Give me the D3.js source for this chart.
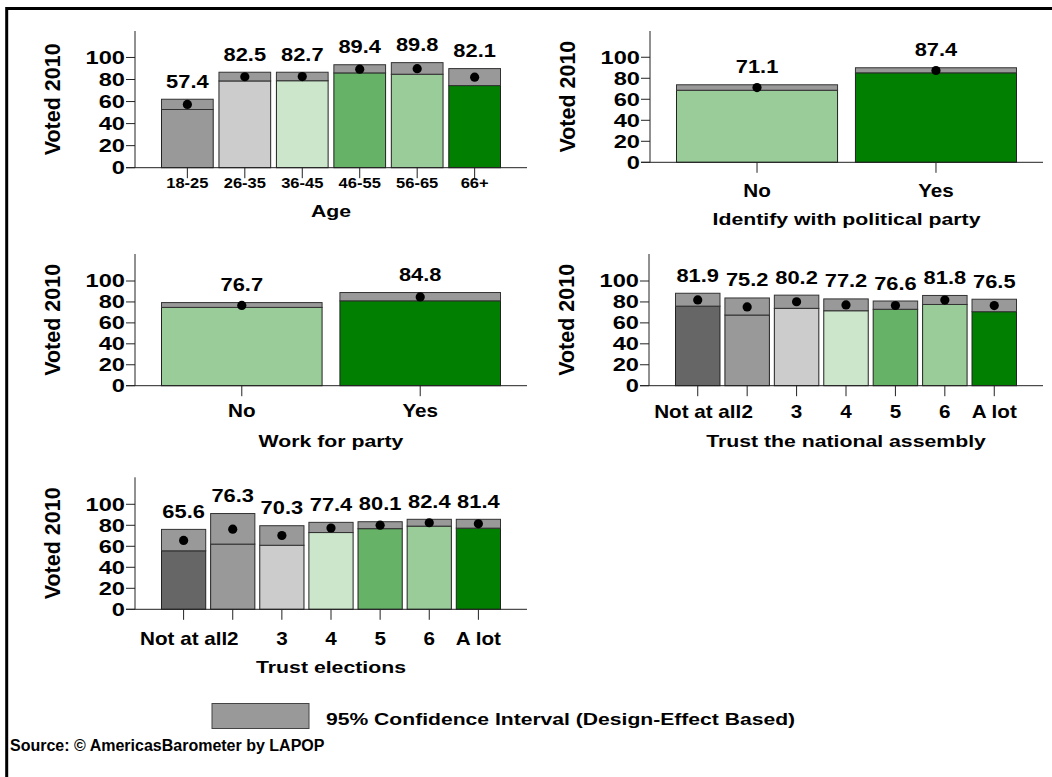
<!DOCTYPE html>
<html><head><meta charset="utf-8">
<script src="https://cdn.jsdelivr.net/npm/d3@7"></script>
<style>body{margin:0;background:#fff}</style>
</head><body>
<svg id="c" width="1052" height="777"></svg>
<script>
// ---------- data ----------
const ageCats = ["18-25","26-35","36-45","46-55","56-65","66+"];
const ageMean = [57.4,82.5,82.7,89.4,89.8,82.1];
const ageLo   = [52.8,78.7,78.9,86.0,84.8,74.5];
const ageHi   = [62.1,86.6,86.6,93.4,95.3,89.9];

const partyCats = ["No","Yes"];
const partyMean = [71.1,87.4];
const partyLo   = [68.6,85.2];
const partyHi   = [73.8,90.0];

const workCats = ["No","Yes"];
const workMean = [76.7,84.8];
const workLo   = [74.8,81.1];
const workHi   = [79.4,89.0];

const trustCats = ["Not at all","2","3","4","5","6","A lot"];
const assemblyMean = [81.9,75.2,80.2,77.2,76.6,81.8,76.5];
const assemblyLo   = [76.0,67.5,73.9,71.6,73.0,77.6,70.7];
const assemblyHi   = [88.3,83.8,86.5,82.9,80.9,86.2,82.6];

const electionsMean = [65.6,76.3,70.3,77.4,80.1,82.4,81.4];
const electionsLo   = [55.7,62.1,61.0,73.1,76.8,79.2,77.3];
const electionsHi   = [76.1,91.2,79.6,82.8,83.4,85.7,85.7];

const yTicks = [0,20,40,60,80,100];
const yTitle = "Voted 2010";
const legendLabel = "95% Confidence Interval (Design-Effect Based)";
const sourceLabel = "Source: \u00A9 AmericasBarometer by LAPOP";

// ---------- styles ----------
const ageColors   = ["#999999","#cccccc","#cce6cc","#66b266","#99cc99","#007f00"];
const twoColors   = ["#99cc99","#007f00"];
const trustColors = ["#666666","#999999","#cccccc","#cce6cc","#66b266","#99cc99","#007f00"];
const ciFill = "#999999";
const FONT = "'Liberation Sans', Arial, Helvetica, sans-serif";

const svg = d3.select("#c");

function T(g, x, y, str, o) {
  return g.append("text")
    .attr("transform", `translate(${x},${y}) rotate(${o.rot||0}) scale(${o.sx||1},1)`)
    .attr("text-anchor", o.anchor || "middle")
    .style("font-family", FONT).style("font-weight", "bold")
    .style("font-size", o.size + "px")
    .attr("fill", "#000")
    .text(str);
}

// frame
svg.append("rect").attr("x", 6.7).attr("y", 8.5).attr("width", 1060).attr("height", 790)
  .attr("fill", "none").attr("stroke", "#000").attr("stroke-width", 3);

const panels = [
  {cats: ageCats, mean: ageMean, lo: ageLo, hi: ageHi, colors: ageColors, title: "Age",
   x0: 135, x1: 527, top: 31, base: 167.7, ymax: 124,
   tickSize: 14, tickSx: 1.18, tickBase: 187.7, titleBase: 216.7, yTitleX: 60},
  {cats: partyCats, mean: partyMean, lo: partyLo, hi: partyHi, colors: twoColors, title: "Identify with political party",
   x0: 650, x1: 1043, top: 31, base: 162.3, ymax: 125,
   tickSize: 17.5, tickSx: 1.18, tickBase: 197.3, titleBase: 225, yTitleX: 575},
  {cats: workCats, mean: workMean, lo: workLo, hi: workHi, colors: twoColors, title: "Work for party",
   x0: 135, x1: 527, top: 254, base: 385.7, ymax: 125.8,
   tickSize: 17.5, tickSx: 1.18, tickBase: 417.3, titleBase: 446.7, yTitleX: 60},
  {cats: trustCats, mean: assemblyMean, lo: assemblyLo, hi: assemblyHi, colors: trustColors, title: "Trust the national assembly",
   x0: 649, x1: 1043, top: 254, base: 385.7, ymax: 125.8,
   tickSize: 17.5, tickSx: 1.18, tickBase: 417.7, titleBase: 446.7, yTitleX: 574},
  {cats: trustCats, mean: electionsMean, lo: electionsLo, hi: electionsHi, colors: trustColors, title: "Trust elections",
   x0: 135, x1: 527, top: 477.3, base: 609.3, ymax: 125.7,
   tickSize: 17.5, tickSx: 1.18, tickBase: 645, titleBase: 673.3, yTitleX: 60}
];

panels.forEach(p => {
  const g = svg.append("g");
  const x = d3.scaleBand().domain(p.cats).range([p.x0 + 26.5, p.x1 - 26.5]).paddingInner(0.1).paddingOuter(0);
  const y = d3.scaleLinear().domain([0, p.ymax]).range([p.base, p.top]);
  const data = p.cats.map((c, i) => ({c, m: p.mean[i], lo: p.lo[i], hi: p.hi[i], col: p.colors[i]}));

  // bars: lower part (category colour)
  g.selectAll("rect.low").data(data).join("rect")
    .attr("x", d => x(d.c)).attr("width", x.bandwidth())
    .attr("y", d => y(d.lo)).attr("height", d => y(0) - y(d.lo))
    .attr("fill", d => d.col).attr("stroke", "#222").attr("stroke-width", 1);
  // CI part
  g.selectAll("rect.ci").data(data).join("rect")
    .attr("x", d => x(d.c)).attr("width", x.bandwidth())
    .attr("y", d => y(d.hi)).attr("height", d => y(d.lo) - y(d.hi))
    .attr("fill", ciFill).attr("stroke", "#333").attr("stroke-width", 1);
  // means
  g.selectAll("circle").data(data).join("circle")
    .attr("cx", d => x(d.c) + x.bandwidth() / 2).attr("cy", d => y(d.m)).attr("r", 4.6)
    .attr("fill", "#000");
  // value labels
  data.forEach(d => T(g, x(d.c) + x.bandwidth() / 2, y(d.hi) - 11.5, d.m.toFixed(1), {size: 17.5, sx: 1.25}));

  // axes
  g.append("line").attr("x1", p.x0).attr("x2", p.x0).attr("y1", y(0)).attr("y2", y(p.ymax))
    .attr("stroke", "#222").attr("stroke-width", 1);
  g.append("line").attr("x1", p.x0 - 9).attr("x2", p.x1).attr("y1", y(0)).attr("y2", y(0))
    .attr("stroke", "#222").attr("stroke-width", 1);
  yTicks.forEach(v => {
    g.append("line").attr("x1", p.x0 - 9).attr("x2", p.x0).attr("y1", y(v)).attr("y2", y(v))
      .attr("stroke", "#222").attr("stroke-width", 1);
    T(g, p.x0 - 10, y(v) + 6.3, String(v), {size: 17.5, sx: 1.35, anchor: "end"});
  });
  p.cats.forEach(c => {
    const cx = x(c) + x.bandwidth() / 2;
    g.append("line").attr("x1", cx).attr("x2", cx).attr("y1", y(0)).attr("y2", y(0) + 10.5)
      .attr("stroke", "#222").attr("stroke-width", 1);
    T(g, cx, p.tickBase, c, {size: p.tickSize, sx: p.tickSx});
  });
  T(g, (p.x0 + p.x1) / 2, p.titleBase, p.title, {size: 17, sx: 1.25});
  T(g, p.yTitleX, (y(0) + y(p.ymax)) / 2, yTitle, {size: 21.5, sx: 1.0, rot: -90});
});

// legend
svg.append("rect").attr("x", 212).attr("y", 703.5).attr("width", 97).attr("height", 25)
  .attr("fill", ciFill).attr("stroke", "#444").attr("stroke-width", 1);
T(svg, 326, 725, legendLabel, {size: 16.5, sx: 1.28, anchor: "start"});
T(svg, 10, 751, sourceLabel, {size: 16, sx: 1.0, anchor: "start"});
</script>
</body></html>
